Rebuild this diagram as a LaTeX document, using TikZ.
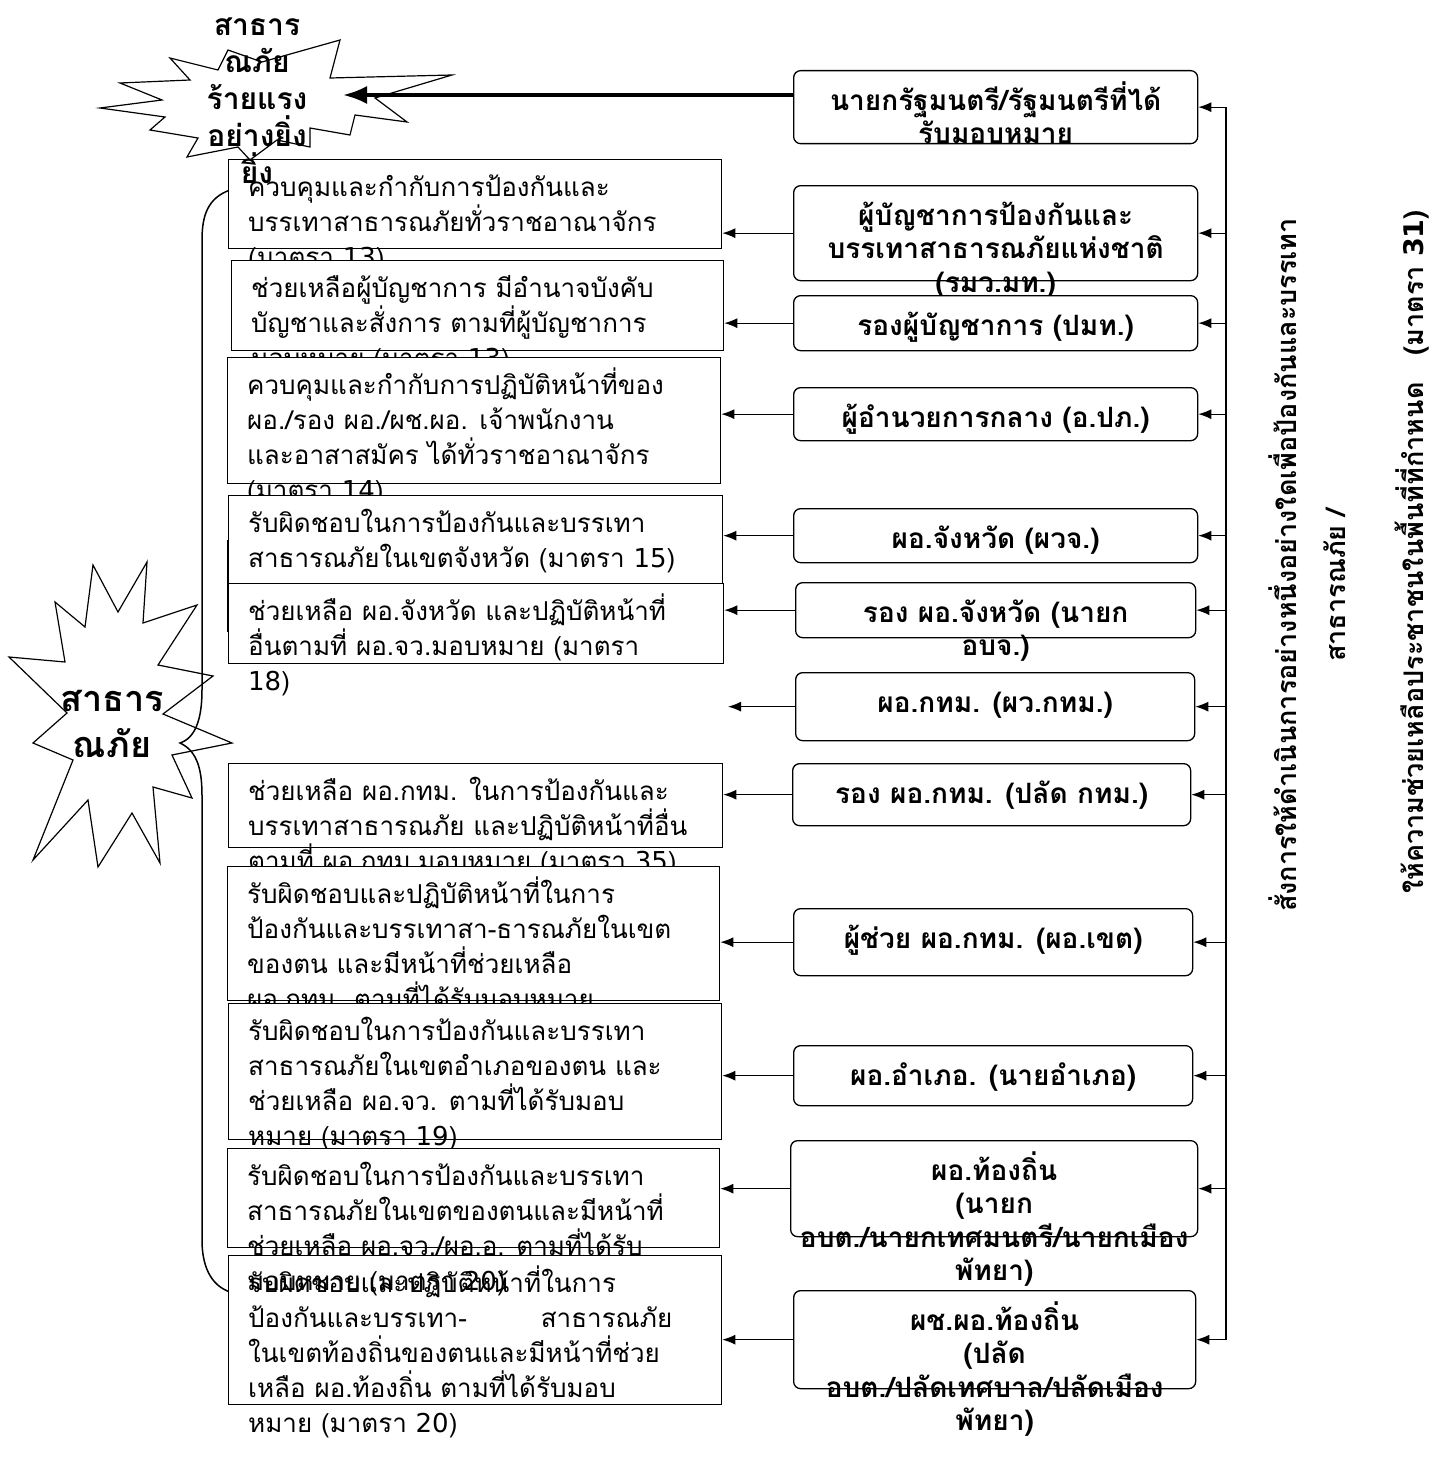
\documentclass[tikz,border=0pt]{standalone}
\usepackage{fontspec}
\setmainfont{Loma}[Script=Thai]
\newfontfamily\dvfont{DejaVu Sans}
\usetikzlibrary{arrows.meta}
\tikzstyle{lbox}=[draw,fill=white,line width=1.3pt,inner sep=0pt,anchor=north west]
\tikzstyle{rbox}=[draw,fill=white,rounded corners=7pt,line width=1.3pt,inner sep=0pt,anchor=north west]
\tikzstyle{ltext}=[anchor=north west,align=left,inner sep=0pt,font=\fontsize{26}{35}\selectfont]
\tikzstyle{rtext}=[anchor=north,align=center,inner sep=0pt,font=\bfseries\fontsize{28}{33.5}\selectfont]
\tikzstyle{vtext}=[rotate=90,inner sep=0pt,font=\bfseries\fontsize{27}{34}\selectfont]
\tikzstyle{startext}=[anchor=north,align=center,inner sep=0pt]
\tikzstyle{star}=[draw,fill=white,line width=1.2pt,line join=miter]
\tikzstyle{edge}=[draw,line width=1.2pt,-{Latex[length=13pt,width=10pt]}]
\tikzstyle{bigedge}=[draw,line width=3.5pt,-{Latex[length=24pt,width=18pt]}]
\newcommand{\lead}[1]{\rule{0pt}{#1}}
\newcommand{\dg}[1]{{\dvfont #1}}

\begin{document}
\begin{tikzpicture}[x=1pt,y=-1pt]
    \useasboundingbox (0,0) rectangle (1447,1461);

    % the two bursts
    \draw[star] (100,108) -- (162,100) -- (120,83) -- (190,80) -- (170,58) -- (218,70) -- (228,50)
        -- (262,62) -- (340,40) -- (330,78) -- (452,75) -- (375,98) -- (407,122) -- (355,115)
        -- (350,135) -- (310,128) -- (310,147) -- (277,140) -- (250,160) -- (238,147)
        -- (187,157) -- (198,138) -- (150,130) -- (165,117) -- cycle;
    \draw[star] (93,565) -- (118,612) -- (147,562) -- (143,623) -- (197,605) -- (158,665)
        -- (213,676) -- (163,714) -- (232,743) -- (172,755) -- (192,798) -- (153,787)
        -- (160,863) -- (132,813) -- (98,867) -- (88,800) -- (33,860) -- (73,760)
        -- (33,743) -- (67,713) -- (9,657) -- (65,662) -- (55,602) -- (85,627) -- cycle;
    \node[startext,font=\bfseries\fontsize{36}{46}\selectfont] (disaster) at (112,673) {\lead{38pt}สาธาร\\ณภัย};

    % brace
    \draw[line width=1.5pt] (230,190) .. controls (208,198) and (202,215) .. (202,240)
        -- (202,690) .. controls (202,720) and (195,738) .. (180,743)
        .. controls (195,750) and (202,765) .. (202,795) -- (202,1240)
        .. controls (202,1265) and (210,1285) .. (230,1292);
    \draw[line width=2pt] (228,540) -- (228,632);

    % duties (left column)
    \foreach \name/\x/\y/\w/\h/\txt in {
        l1/228/159/493/89/{ควบคุมและกำกับการป้องกันและ\\บรรเทาสาธารณภัยทั่วราชอาณาจักร\\(มาตรา \dg{13})},
        l2/231/260/492/90/{ช่วยเหลือผู้บัญชาการ มีอำนาจบังคับ\\บัญชาและสั่งการ ตามที่ผู้บัญชาการ\\มอบหมาย (มาตรา \dg{13})},
        l3/227/357/493/126/{ควบคุมและกำกับการปฏิบัติหน้าที่ของ\\ผอ./รอง ผอ./ผช.ผอ. เจ้าพนักงาน\\และอาสาสมัคร ได้ทั่วราชอาณาจักร\\(มาตรา \dg{14})},
        l4/228/495/494/88/{รับผิดชอบในการป้องกันและบรรเทา\\สาธารณภัยในเขตจังหวัด (มาตรา \dg{15})},
        l5/228/583/495/80/{ช่วยเหลือ ผอ.จังหวัด และปฏิบัติหน้าที่\\อื่นตามที่ ผอ.จว.มอบหมาย (มาตรา\\\dg{18})},
        l6/228/763/494/84/{ช่วยเหลือ ผอ.กทม. ในการป้องกันและ\\บรรเทาสาธารณภัย และปฏิบัติหน้าที่อื่น\\ตามที่ ผอ.กทม.มอบหมาย (มาตรา \dg{35})},
        l7/227/866/492/134/{รับผิดชอบและปฏิบัติหน้าที่ในการ\\ป้องกันและบรรเทาสา-ธารณภัยในเขต\\ของตน และมีหน้าที่ช่วยเหลือ\\ผอ.กทม. ตามที่ได้รับมอบหมาย},
        l8/228/1003/493/136/{รับผิดชอบในการป้องกันและบรรเทา\\สาธารณภัยในเขตอำเภอของตน และ\\ช่วยเหลือ ผอ.จว. ตามที่ได้รับมอบ\\หมาย (มาตรา \dg{19})},
        l9/227/1148/492/99/{รับผิดชอบในการป้องกันและบรรเทา\\สาธารณภัยในเขตของตนและมีหน้าที่\\ช่วยเหลือ ผอ.จว./ผอ.อ. ตามที่ได้รับ},
        l10/228/1255/493/149/{รับผิดชอบและปฏิบัติหน้าที่ในการ\\\hbox to 424pt{ป้องกันและบรรเทา-\hfill สาธารณภัย}\\ในเขตท้องถิ่นของตนและมีหน้าที่ช่วย\\เหลือ ผอ.ท้องถิ่น ตามที่ได้รับมอบ\\หมาย (มาตรา \dg{20})}}
    {
        \node[lbox,minimum width=\w pt,minimum height=\h pt] (\name) at (\x,\y) {};
        \node[ltext] (\name t) at ([xshift=20pt,yshift=-7pt]\name.north west) {\lead{30pt}\txt};
    }
    \node[ltext] (l9more) at ([xshift=20pt,yshift=-112pt]l9.north west) {\lead{30pt}มอบหมาย (มาตรา \dg{20})};

    % officers (right column)
    \foreach \name/\x/\y/\w/\h/\txt in {
        r1/793/70/404/73/{นายกรัฐมนตรี/รัฐมนตรีที่ได้\\รับมอบหมาย},
        r2/793/185/404/95/{ผู้บัญชาการป้องกันและ\\บรรเทาสาธารณภัยแห่งชาติ\\(รมว.มท.)},
        r3/793/295/404/55/{รองผู้บัญชาการ (ปมท.)},
        r4/793/387/404/53/{ผู้อำนวยการกลาง (อ.ปภ.)},
        r5/793/508/404/54/{ผอ.จังหวัด (ผวจ.)},
        r6/795/582/400/55/{รอง ผอ.จังหวัด (นายก\\อบจ.)},
        r7/795/672/399/68/{ผอ.กทม. (ผว.กทม.)},
        r8/792/763/398/62/{รอง ผอ.กทม. (ปลัด กทม.)},
        r9/793/908/399/67/{ผู้ช่วย ผอ.กทม. (ผอ.เขต)},
        r10/793/1045/399/60/{ผอ.อำเภอ. (นายอำเภอ)},
        r11/790/1140/407/96/{ผอ.ท้องถิ่น\\(นายก\\อบต./นายกเทศมนตรี/นายกเมือง\\พัทยา)},
        r12/793/1290/402/98/{ผช.ผอ.ท้องถิ่น\\(ปลัด\\อบต./ปลัดเทศบาล/ปลัดเมือง\\พัทยา)}}
    {
        \node[rbox,minimum width=\w pt,minimum height=\h pt] (\name) at (\x,\y) {};
        \node[rtext] (\name t) at ([yshift=-10pt]\name.north) {\lead{30pt}\txt};
    }

    % arrows between the columns
    \coordinate (startip) at (343,95);
    \coordinate (gap) at (728,0);
    \coordinate (vx) at (1226,0);
    \path[bigedge] (r1.west |- startip) -- (startip);
    \foreach \src/\dst in {r2/l1, r3/l2, r4/l3, r5/l4, r6/l5, r8/l6, r9/l7, r10/l8, r11/l9, r12/l10}
        \path[edge] (\src.west) -- (\src.west -| \dst.east);
    \path[edge] (r7.west) -- (r7.west -| gap);

    % command bar on the right
    \draw[line width=2.2pt] (r1.east -| vx) -- (r12.east -| vx);
    \foreach \name in {r1,r2,r3,r4,r5,r6,r7,r8,r9,r10,r11,r12}
        \path[edge] (\name.east -| vx) -- (\name.east);

    \node[vtext] (order) at (1283,565) {สั่งการให้ดำเนินการอย่างหนึ่งอย่างใดเพื่อป้องกันและบรรเทา};
    \node[vtext] (order2) at (1335,585) {สาธารณภัย /};
    \node[vtext] (help) at (1412,552) {ให้ความช่วยเหลือประชาชนในพื้นที่ที่กำหนด\ \ \ (มาตรา \dg{31})};

    \node[startext,font=\bfseries\fontsize{30}{37}\selectfont] (severe) at (257,3) {\lead{32pt}สาธาร\\ณภัย\\ร้ายแรง\\อย่างยิ่ง\\ยิ่ง};
\end{tikzpicture}
\end{document}
